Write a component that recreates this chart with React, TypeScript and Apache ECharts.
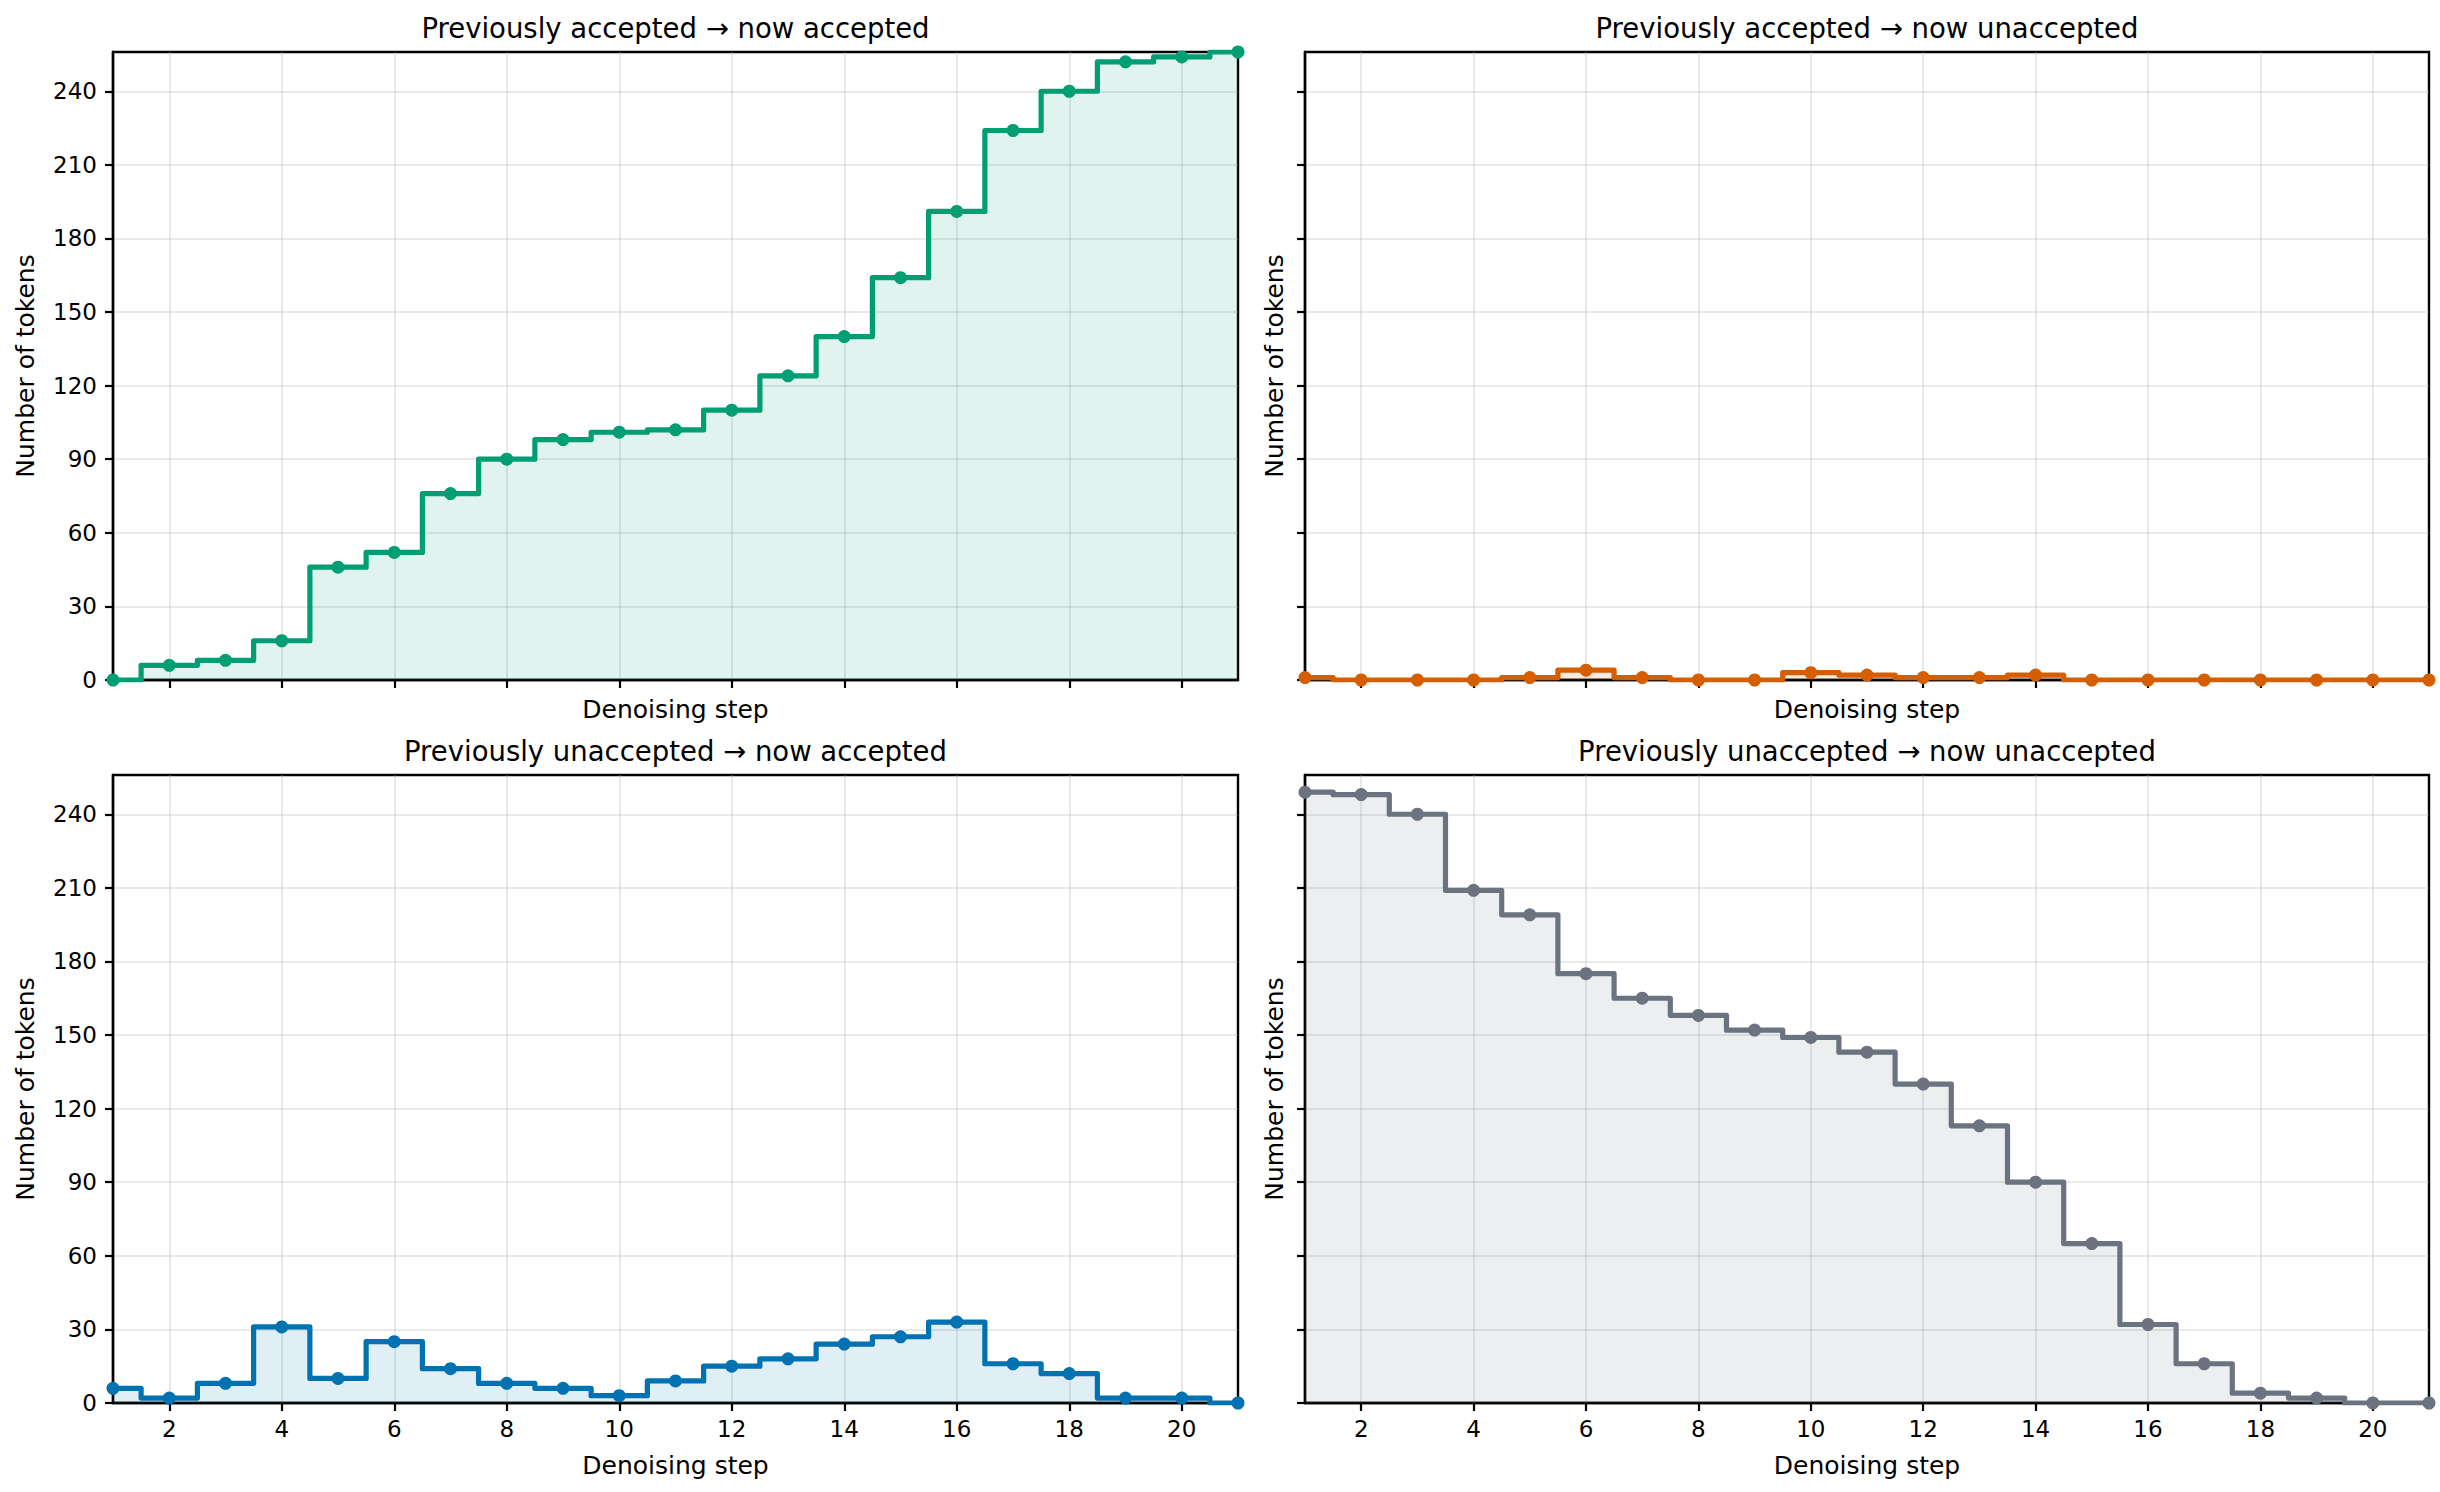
import React, { useEffect, useRef } from "react";
import * as echarts from "echarts";

// ---- data ----
const steps = [1, 2, 3, 4, 5, 6, 7, 8, 9, 10, 11, 12, 13, 14, 15, 16, 17, 18, 19, 20, 21];
const accToAcc = [0, 6, 8, 16, 46, 52, 76, 90, 98, 101, 102, 110, 124, 140, 164, 191, 224, 240, 252, 254, 256];
const accToUnacc = [1, 0, 0, 0, 1, 4, 1, 0, 0, 3, 2, 1, 1, 2, 0, 0, 0, 0, 0, 0, 0];
const unaccToAcc = [6, 2, 8, 31, 10, 25, 14, 8, 6, 3, 9, 15, 18, 24, 27, 33, 16, 12, 2, 2, 0];
const unaccToUnacc = [249, 248, 240, 209, 199, 175, 165, 158, 152, 149, 143, 130, 113, 90, 65, 32, 16, 4, 2, 0, 0];

const panelTitles = [
  "Previously accepted \u2192 now accepted",
  "Previously accepted \u2192 now unaccepted",
  "Previously unaccepted \u2192 now accepted",
  "Previously unaccepted \u2192 now unaccepted",
];
const panelColors = ["#009E73", "#D55E00", "#0072B2", "#6B7280"];
const panelData = [accToAcc, accToUnacc, unaccToAcc, unaccToUnacc];

const yTicks = [0, 30, 60, 90, 120, 150, 180, 210, 240];
const xTicks = [2, 4, 6, 8, 10, 12, 14, 16, 18, 20];
const yMax = 256;
const xMin = 1;
const xMax = 21;

const xLabel = "Denoising step";
const yLabel = "Number of tokens";

const FONT = "DejaVu Sans";

// layout (px)
const grids = [
  { left: 113, top: 52, width: 1125, height: 628 },
  { left: 1305, top: 52, width: 1124, height: 628 },
  { left: 113, top: 775, width: 1125, height: 628 },
  { left: 1305, top: 775, width: 1124, height: 628 },
];

export default function App() {
  const ref = useRef<HTMLDivElement>(null);

  useEffect(() => {
    document.body.style.margin = "0";
    if (!ref.current) return;
    const chart = echarts.init(ref.current, null, { renderer: "svg" });

    const gridLine = { show: true, lineStyle: { color: "rgba(176,176,176,0.28)", width: 2 } };

    const xAxis = grids.map((_, i) => {
      const bottomRow = i >= 2;
      return {
        type: "value",
        gridIndex: i,
        min: xMin,
        max: xMax,
        name: xLabel,
        nameLocation: "middle",
        nameGap: bottomRow ? 50 : 17,
        nameTextStyle: { fontFamily: FONT, fontSize: 25, color: "#000" },
        axisLine: { show: true, onZero: false, lineStyle: { color: "#000", width: 2.4 } },
        axisTick: { show: true, length: 8, customValues: xTicks, lineStyle: { color: "#000", width: 2.2 } },
        axisLabel: {
          show: bottomRow,
          customValues: xTicks,
          margin: 14,
          fontFamily: FONT,
          fontSize: 23,
          color: "#000",
        },
        splitLine: gridLine,
      };
    });

    const yAxis = grids.map((_, i) => {
      const leftCol = i % 2 === 0;
      return {
        type: "value",
        gridIndex: i,
        min: 0,
        max: yMax,
        interval: 30,
        name: yLabel,
        nameLocation: "middle",
        nameRotate: 90,
        nameGap: leftCol ? 75 : 18,
        nameTextStyle: { fontFamily: FONT, fontSize: 25, color: "#000" },
        axisLine: { show: true, lineStyle: { color: "#000", width: 2.4 } },
        axisTick: { show: true, length: 8, customValues: yTicks, lineStyle: { color: "#000", width: 2.2 } },
        axisLabel: {
          show: leftCol,
          customValues: yTicks,
          margin: 16,
          fontFamily: FONT,
          fontSize: 23,
          color: "#000",
        },
        splitLine: gridLine,
      };
    });

    const series = panelData.map((vals, i) => ({
      type: "line",
      xAxisIndex: i,
      yAxisIndex: i,
      data: steps.map((s, j) => [s, vals[j]]),
      step: "middle",
      symbol: "circle",
      symbolSize: 13,
      showSymbol: true,
      clip: true,
      lineStyle: { color: panelColors[i], width: 5.2, join: "round" },
      itemStyle: { color: panelColors[i] },
      areaStyle: { color: panelColors[i], opacity: 0.12 },
      z: 3,
    }));

    const titles = grids.map((g, i) => ({
      type: "text",
      x: g.left + g.width / 2,
      y: g.top - 24,
      style: {
        text: panelTitles[i],
        fontFamily: FONT,
        fontSize: 27.5,
        fill: "#000",
        textAlign: "center",
        textVerticalAlign: "middle",
      },
    }));

    chart.setOption({
      animation: false,
      backgroundColor: "#fff",
      grid: grids.map((g) => ({
        ...g,
        show: true,
        borderColor: "#000",
        borderWidth: 2.4,
        backgroundColor: "transparent",
        containLabel: false,
      })),
      xAxis,
      yAxis,
      series,
      graphic: titles,
    });

    return () => chart.dispose();
  }, []);

  return <div ref={ref} style={{ width: 2440, height: 1492 }} />;
}
